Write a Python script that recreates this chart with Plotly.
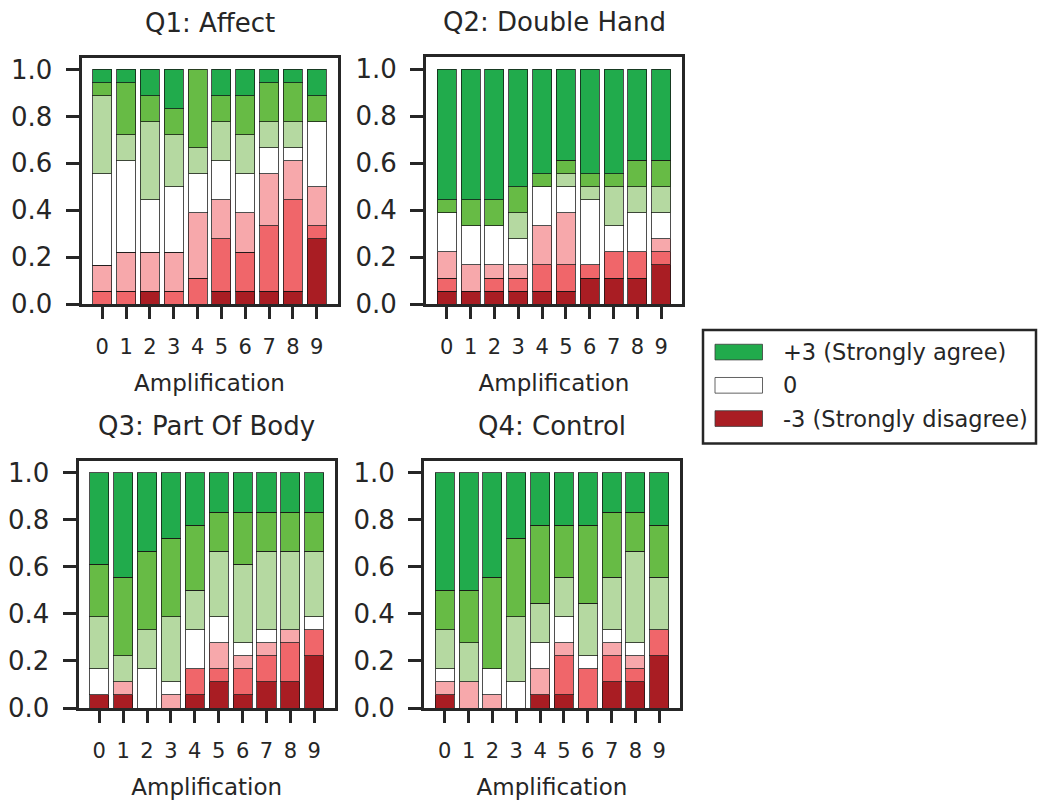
import plotly.graph_objects as go

W, H = 1039, 811

amplification = [0, 1, 2, 3, 4, 5, 6, 7, 8, 9]
n_participants = 18

level_names = ["-3 (Strongly disagree)", "-2", "-1", "0", "+1", "+2", "+3 (Strongly agree)"]
level_colors = ["#a91d23", "#f0666a", "#f7a8ab", "#ffffff", "#b5d9a1", "#67bb45", "#21ab4c"]

question_titles = ["Q1: Affect", "Q2: Double Hand", "Q3: Part Of Body", "Q4: Control"]

# counts of answers per level (-3 .. +3) for amplification 0..9
q1_m3 = [0, 0, 1, 0, 0, 1, 1, 1, 1, 5]
q1_m2 = [1, 1, 0, 1, 2, 4, 3, 5, 7, 1]
q1_m1 = [2, 3, 3, 3, 5, 3, 3, 4, 3, 3]
q1_z = [7, 7, 4, 5, 3, 3, 3, 2, 1, 5]
q1_p1 = [6, 2, 6, 4, 2, 3, 3, 2, 2, 0]
q1_p2 = [1, 4, 2, 2, 6, 2, 3, 3, 3, 2]
q1_p3 = [1, 1, 2, 3, 0, 2, 2, 1, 1, 2]

q2_m3 = [1, 1, 1, 1, 1, 1, 2, 2, 2, 3]
q2_m2 = [1, 0, 1, 1, 2, 2, 1, 2, 2, 1]
q2_m1 = [2, 2, 1, 1, 3, 4, 0, 0, 0, 1]
q2_z = [3, 3, 3, 2, 3, 2, 5, 2, 3, 2]
q2_p1 = [0, 0, 0, 2, 0, 1, 1, 3, 2, 2]
q2_p2 = [1, 2, 2, 2, 1, 1, 1, 1, 2, 2]
q2_p3 = [10, 10, 10, 9, 8, 7, 8, 8, 7, 7]

q3_m3 = [1, 1, 0, 0, 1, 2, 1, 2, 2, 4]
q3_m2 = [0, 0, 0, 0, 2, 1, 2, 2, 3, 2]
q3_m1 = [0, 1, 0, 1, 0, 2, 1, 1, 1, 0]
q3_z = [2, 0, 3, 1, 3, 2, 1, 1, 0, 1]
q3_p1 = [4, 2, 3, 5, 3, 5, 6, 6, 6, 5]
q3_p2 = [4, 6, 6, 6, 5, 3, 4, 3, 3, 3]
q3_p3 = [7, 8, 6, 5, 4, 3, 3, 3, 3, 3]

q4_m3 = [1, 0, 0, 0, 1, 1, 0, 2, 2, 4]
q4_m2 = [0, 0, 0, 0, 0, 3, 3, 2, 1, 2]
q4_m1 = [1, 2, 1, 0, 2, 1, 0, 1, 1, 0]
q4_z = [1, 0, 2, 2, 2, 2, 1, 1, 1, 0]
q4_p1 = [3, 3, 0, 5, 3, 3, 4, 4, 7, 4]
q4_p2 = [3, 4, 7, 6, 6, 4, 6, 5, 3, 4]
q4_p3 = [9, 9, 8, 5, 4, 4, 4, 3, 3, 4]

questions = [
    [q1_m3, q1_m2, q1_m1, q1_z, q1_p1, q1_p2, q1_p3],
    [q2_m3, q2_m2, q2_m1, q2_z, q2_p1, q2_p2, q2_p3],
    [q3_m3, q3_m2, q3_m1, q3_z, q3_p1, q3_p2, q3_p3],
    [q4_m3, q4_m2, q4_m1, q4_z, q4_p1, q4_p2, q4_p3],
]

y_ticks = [0.0, 0.2, 0.4, 0.6, 0.8, 1.0]

FONT = "DejaVu Sans"
TXT = "#262626"


def px_x(v):
    return v / W


def px_y(v):
    return 1 - v / H


# panel pixel boxes (left, right, top, bottom)
boxes = [
    (81.5, 337.5, 56, 308),
    (426, 682, 55.5, 308),
    (78.5, 335, 468.5, 721),
    (424, 680, 468.5, 721),
]

fig = go.Figure()

for qi, levels in enumerate(questions):
    ax = "" if qi == 0 else str(qi + 1)
    for li, counts in enumerate(levels):
        fig.add_trace(go.Bar(
            x=amplification,
            y=[(c / n_participants) if c > 0 else None for c in counts],
            name=level_names[li],
            marker=dict(color=level_colors[li], line=dict(color="rgba(20,20,20,0.75)", width=1)),
            width=0.8,
            xaxis="x" + ax,
            yaxis="y" + ax,
            showlegend=False,
        ))

layout = dict(
    width=W, height=H, autosize=False,
    margin=dict(l=0, r=0, t=0, b=0, pad=0),
    paper_bgcolor="white", plot_bgcolor="white",
    barmode="stack", bargap=0.2,
    font=dict(family=FONT, color=TXT),
    showlegend=False,
)

annotations = []
shapes = []
for qi, (l, r, t, b) in enumerate(boxes):
    ax = "" if qi == 0 else str(qi + 1)
    layout["xaxis" + ax] = dict(
        domain=[px_x(l), px_x(r)],
        anchor="y" + ax,
        range=[-0.87, 9.87],
        tickmode="array", tickvals=amplification, ticktext=[str(a) for a in amplification],
        ticks="outside", ticklen=12, tickwidth=2.5, tickcolor=TXT,
        tickfont=dict(size=21, family=FONT, color=TXT),
        showline=True, mirror=True, linewidth=3, linecolor=TXT,
        showgrid=False, zeroline=False,
        ticklabelstandoff=10,
        title=dict(text="Amplification", font=dict(size=23, family=FONT, color=TXT), standoff=17),
        fixedrange=True,
    )
    layout["yaxis" + ax] = dict(
        domain=[px_y(b), px_y(t)],
        anchor="x" + ax,
        range=[0, 1.05],
        tickmode="array", tickvals=y_ticks, ticktext=["%.1f" % v for v in y_ticks],
        ticks="outside", ticklen=13, tickwidth=2.5, tickcolor=TXT,
        tickfont=dict(size=26, family=FONT, color=TXT),
        showline=True, mirror=True, linewidth=3, linecolor=TXT,
        showgrid=False, zeroline=False,
        ticklabelstandoff=8,
        fixedrange=True,
    )
    annotations.append(dict(
        text=question_titles[qi], xref="paper", yref="paper",
        x=px_x((l + r) / 2), y=px_y(t - 36), xanchor="center", yanchor="middle",
        showarrow=False, font=dict(size=26, family=FONT, color=TXT),
    ))

# legend box drawn in paper coordinates
legend_entries = [
    ("+3 (Strongly agree)", level_colors[6]),
    ("0", level_colors[3]),
    ("-3 (Strongly disagree)", level_colors[0]),
]
shapes.append(dict(
    type="rect", xref="paper", yref="paper",
    x0=px_x(703), x1=px_x(1036), y0=px_y(450.5), y1=px_y(334.5),
    line=dict(color=TXT, width=2.5), fillcolor="white",
))
for i, (label, col) in enumerate(legend_entries):
    cy = 357 + i * 34
    shapes.append(dict(
        type="rect", xref="paper", yref="paper",
        x0=px_x(715), x1=px_x(762.5), y0=px_y(cy + 8), y1=px_y(cy - 8),
        line=dict(color="rgba(60,60,60,0.8)", width=1), fillcolor=col,
    ))
    annotations.append(dict(
        text=label, xref="paper", yref="paper",
        x=px_x(781), y=px_y(cy), xanchor="left", yanchor="middle",
        showarrow=False, font=dict(size=22.5, family=FONT, color=TXT),
    ))

layout["annotations"] = annotations
layout["shapes"] = shapes
fig.update_layout(**layout)

fig.write_html("out.html", config={"displayModeBar": False, "responsive": False})
